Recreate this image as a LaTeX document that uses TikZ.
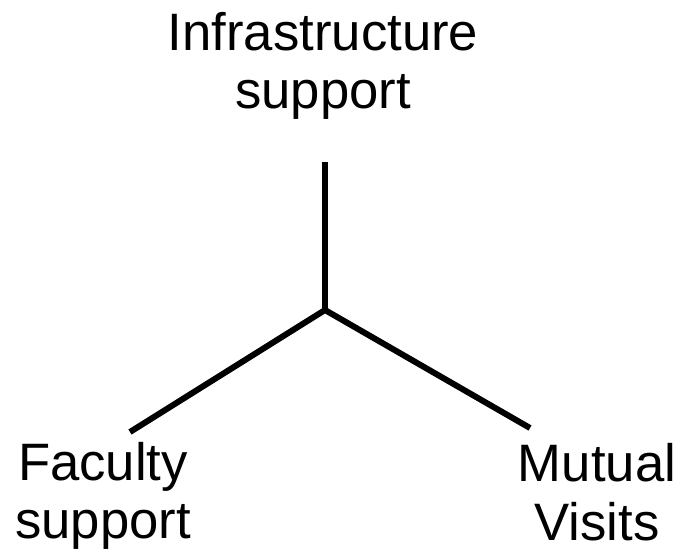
\documentclass[tikz,border=0pt]{standalone}
\usepackage{fontspec}
\setmainfont{Liberation Sans}
\begin{document}
\begin{tikzpicture}
		[x=0.75pt,y=-0.75pt,
		label/.style={draw=none,fill=none,align=center,inner sep=0pt,font=\fontsize{39.5}{44}\selectfont},
		spoke/.style={line width=4.5pt}
		]
		\useasboundingbox (0,0) rectangle (693,557);
		\node[label] (infra) at (323,66){Infrastructure\\support};
		\node[label] (faculty) at (103,496){Faculty\\support};
		\node[label] (mutual) at (597,492){Mutual\\Visits};

\coordinate (hub) at (325,310);
\coordinate (infraend) at (325,162);
\coordinate (facultyend) at (130,432);
\coordinate (mutualend) at (530,428);
		\draw[spoke] (infraend) -- (hub);
		\draw[spoke,line join=miter] (facultyend) -- (hub) -- (mutualend);
	\end{tikzpicture}
\end{document}
